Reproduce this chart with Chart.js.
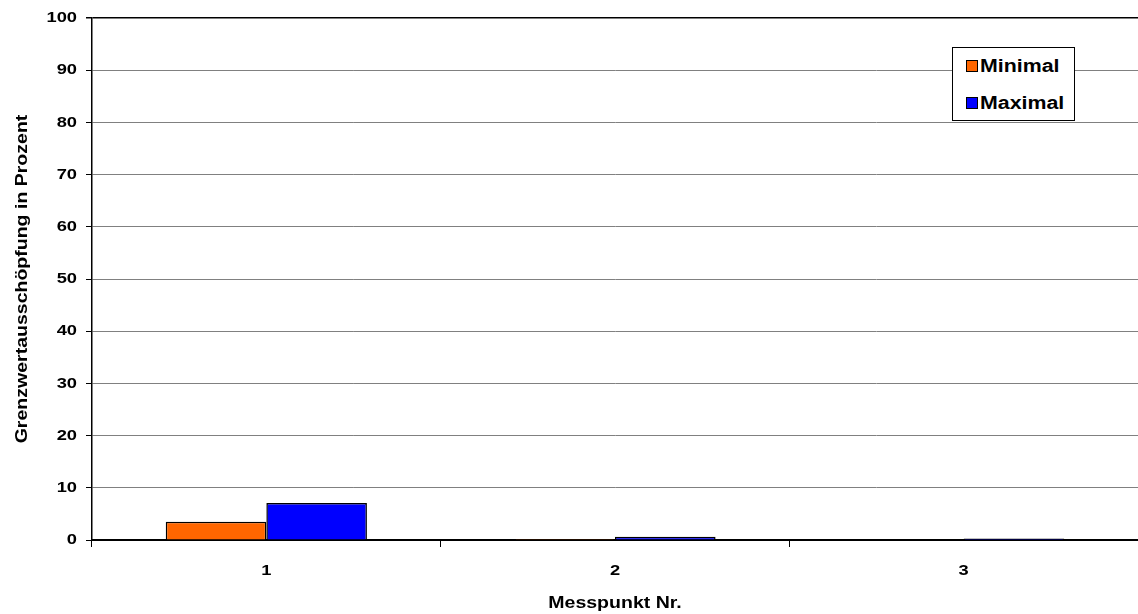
<!DOCTYPE html>
<html>
<head>
<meta charset="utf-8">
<script src="https://cdn.jsdelivr.net/npm/chart.js@4.4.1/dist/chart.umd.min.js"></script>
<style>
  html, body { margin: 0; padding: 0; background: #fff; }
  #wrap { position: relative; width: 1138px; height: 614px; overflow: hidden; }
  #legend {
    position: absolute; left: 952px; top: 47px; width: 123px; height: 74px;
    border: 1px solid #000; background: #fff; box-sizing: border-box;
    font: bold 17.5px "Liberation Sans", Arial, sans-serif; color: #000;
  }
  #legend .item { position: absolute; left: 13px; height: 22px; display: flex; align-items: center; white-space: nowrap; }
  #legend .sw { width: 12px; height: 12px; border: 1px solid #000; box-sizing: border-box; margin-right: 2px; flex: none; }
  #legend .txt { display: inline-block; transform: scaleX(1.22); transform-origin: left center; }
</style>
</head>
<body>
<div id="wrap">
  <canvas id="c" width="1138" height="614"></canvas>
  <div id="legend"></div>
</div>
<script>
const categories = ['1', '2', '3'];
const minimalValues = [3.5, 0.2, 0.1];
const maximalValues = [7.1, 0.6, 0.3];
const seriesNames = ['Minimal', 'Maximal'];
const seriesColors = ['#ff6600', '#0000ff'];

const family = '"Liberation Sans", Arial, sans-serif';
const tickFont = { family, size: 15, weight: 'bold' };
const titleFont = { family, size: 16, weight: 'bold' };

// all canvas text is drawn with wide glyphs (stretched along the text direction)
const TEXT_STRETCH = 1.22;
const canvas = document.getElementById('c');
const ctx2d = canvas.getContext('2d');
const rawFillText = ctx2d.fillText;
ctx2d.fillText = function (text, x, y) {
  this.save();
  this.translate(x, y);
  this.scale(TEXT_STRETCH, 1);
  rawFillText.call(this, text, 0, 0);
  this.restore();
};

const chart = new Chart(canvas, {
  type: 'bar',
  data: {
    labels: categories,
    datasets: [
      { label: seriesNames[0], data: minimalValues, backgroundColor: seriesColors[0], borderColor: '#000', borderWidth: 1.5 },
      { label: seriesNames[1], data: maximalValues, backgroundColor: seriesColors[1], borderColor: '#000', borderWidth: 1.5 }
    ]
  },
  options: {
    responsive: false,
    animation: false,
    layout: { padding: { top: 18, right: -5, left: 0, bottom: 0 } },
    datasets: { bar: { categoryPercentage: 0.577, barPercentage: 1.0 } },
    plugins: { legend: { display: false }, tooltip: { enabled: false } },
    scales: {
      x: {
        grid: { offset: true, drawOnChartArea: false, drawTicks: true, tickLength: 7, color: '#000', lineWidth: 1 },
        border: { display: true, color: '#000', width: 2 },
        ticks: { color: '#000', font: tickFont, padding: 15 },
        title: { display: true, text: 'Messpunkt Nr.', color: '#000', font: titleFont, padding: { top: 8, bottom: 1 } },
        afterFit: s => { s.height = 74; }
      },
      y: {
        min: 0, max: 100,
        ticks: { stepSize: 10, color: '#000', font: tickFont, padding: 9 },
        grid: {
          color: ctx => (ctx.tick && ctx.tick.value === 100 ? '#000' : '#808080'),
          tickColor: '#000', tickLength: 6, lineWidth: ctx => (ctx.tick && ctx.tick.value === 100 ? 1.5 : 1)
        },
        border: { display: true, color: '#000', width: 1.5 },
        title: { display: true, text: 'Grenzwertausschöpfung in Prozent', color: '#000', font: titleFont, padding: { top: 13, bottom: 10 } },
        afterFit: s => { s.width = 92; }
      }
    }
  }
});

// legend box built from the dataset definitions
const legend = document.getElementById('legend');
const rowTops = [7, 44];
chart.data.datasets.forEach((ds, i) => {
  const item = document.createElement('div');
  item.className = 'item';
  item.style.top = rowTops[i] + 'px';
  const sw = document.createElement('span');
  sw.className = 'sw';
  sw.style.background = ds.backgroundColor;
  const txt = document.createElement('span');
  txt.className = 'txt';
  txt.textContent = ds.label;
  item.appendChild(sw);
  item.appendChild(txt);
  legend.appendChild(item);
});
</script>
</body>
</html>
